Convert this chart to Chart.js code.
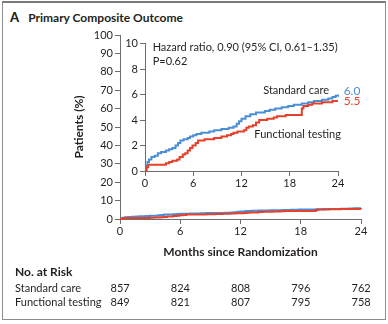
<!DOCTYPE html>
<html>
<head>
<meta charset="utf-8">
<script src="https://cdn.jsdelivr.net/npm/chart.js@4.4.1/dist/chart.umd.min.js"></script>
<style>
  body { margin: 0; background: #fff; font-family: Lato, "Open Sans", sans-serif; color: #231f20; }
  #wrap { position: relative; width: 388px; height: 324px; overflow: hidden; }
  #frame { position: absolute; left: 2px; top: 1px; width: 382px; height: 316px;
           border: 1px solid #8c8c8c; border-top: 2px solid #7a7a7a; }
  canvas { position: absolute; }
  #main { left: 0; top: 0; }
  #inset { left: 95px; top: 35px; }
  .title { position: absolute; left: 10px; top: 9px; font-weight: bold; font-size: 12px; white-space: nowrap; }
  .title b { margin-right: 9px; font-size: 13px; }
  .risk { position: absolute; font-size: 11px; white-space: nowrap; line-height: 14px; }
  .risk.head { font-weight: bold; font-size: 12px; }
</style>
</head>
<body>
<div id="wrap">
  <div id="frame"></div>
  <div class="title"><b>A</b>Primary Composite Outcome</div>
  <canvas id="main" width="388" height="324"></canvas>
  <canvas id="inset" width="280" height="160"></canvas>
</div>
<script>
// months since randomization / cumulative event rate (%)
const standardMonths = [0, 0.15, 0.3, 0.5, 0.8, 1.2, 1.6, 2.0, 2.6, 3.0, 3.4, 3.8, 4.1, 4.4, 4.8, 5.3, 5.6, 6.0, 6.4, 7.0, 8.0, 8.6, 9.5, 10.4, 11.0, 11.4, 11.7, 12.0, 12.5, 13.1, 13.8, 14.9, 15.5, 16.2, 17.0, 17.8, 18.5, 19.5, 20.3, 21.0, 22.0, 22.8, 23.3, 23.7, 24.0];
const standardPct    = [0, 0.4, 0.7, 0.9, 1.1, 1.2, 1.4, 1.5, 1.6, 1.7, 1.8, 2.0, 2.2, 2.4, 2.5, 2.6, 2.7, 2.8, 2.9, 3.0, 3.1, 3.2, 3.3, 3.4, 3.5, 3.7, 3.9, 4.1, 4.3, 4.45, 4.6, 4.7, 4.8, 4.9, 5.0, 5.1, 5.2, 5.3, 5.4, 5.5, 5.6, 5.7, 5.8, 5.9, 6.0];
const functionalMonths = [0, 0.2, 0.4, 2.6, 3.0, 3.4, 4.0, 4.3, 4.7, 5.0, 5.3, 5.6, 5.9, 6.3, 6.6, 7.4, 8.6, 9.5, 10.2, 10.7, 11.0, 11.5, 12.3, 12.6, 12.9, 13.4, 13.8, 14.2, 15.2, 16.0, 16.4, 17.5, 19.5, 19.7, 20.3, 20.8, 22.0, 23.3, 24.0];
const functionalPct    = [0, 0.3, 0.5, 0.6, 0.7, 0.8, 0.9, 1.1, 1.3, 1.4, 1.6, 1.8, 2.0, 2.2, 2.4, 2.5, 2.6, 2.7, 2.8, 2.9, 3.0, 3.1, 3.2, 3.4, 3.5, 3.6, 3.8, 4.0, 4.1, 4.2, 4.3, 4.4, 4.9, 5.1, 5.2, 5.3, 5.4, 5.5, 5.5];

const monthTicks = [0, 6, 12, 18, 24];
const riskStandard   = [857, 824, 808, 796, 762];
const riskFunctional = [849, 821, 807, 795, 758];

const BLUE = '#4a8fd6';
const RED = '#e5402b';
const AXIS = '#6e6e6e';
const TEXT = '#231f20';
const FONT = 'Lato, "Open Sans", sans-serif';

function toPoints(xs, ys) {
  return xs.map((x, i) => ({ x: x, y: ys[i] }));
}

function datasets(width) {
  return [
    { label: 'Functional testing', data: toPoints(functionalMonths, functionalPct),
      borderColor: RED, borderWidth: width, stepped: true, pointRadius: 0, clip: 4 },
    { label: 'Standard care', data: toPoints(standardMonths, standardPct),
      borderColor: BLUE, borderWidth: width, stepped: true, pointRadius: 0, clip: 4 }
  ];
}

function axisStyle(extra) {
  return Object.assign({
    type: 'linear',
    grid: { display: true, drawOnChartArea: false, drawTicks: true, tickLength: 5, color: AXIS },
    border: { display: true, color: AXIS, width: 1 },
    ticks: { color: TEXT, font: { family: FONT, size: 11 }, padding: 1 }
  }, extra);
}

Chart.defaults.animation = false;

// main chart, 0-100 %
const mainChart = new Chart(document.getElementById('main'), {
  type: 'line',
  data: { datasets: datasets(2) },
  options: {
    responsive: false,
    layout: { padding: { left: 68, right: 27, top: 35, bottom: 61 } },
    plugins: { legend: { display: false }, tooltip: { enabled: false } },
    scales: {
      x: axisStyle({
        min: 0, max: 24,
        afterBuildTicks: s => { s.ticks = monthTicks.map(v => ({ value: v })); },
        afterFit: s => { s.height = 44; },
        title: { display: true, text: 'Months since Randomization', color: TEXT,
                 font: { family: FONT, size: 12, weight: 'bold' }, padding: { top: 0, bottom: 4 } }
      }),
      y: axisStyle({
        min: 0, max: 100,
        ticks: { stepSize: 10, color: TEXT, font: { family: FONT, size: 11 }, padding: 2 },
        afterFit: s => { s.width = 52; },
        title: { display: true, text: 'Patients (%)', color: TEXT,
                 font: { family: FONT, size: 12, weight: 'bold' }, padding: { top: 4, bottom: 0 } }
      })
    }
  }
});

// labels drawn inside the inset
const insetLabels = {
  id: 'insetLabels',
  afterDraw(chart) {
    const { ctx, scales: { x, y } } = chart;
    ctx.save();
    ctx.font = '11px ' + FONT;
    ctx.textBaseline = 'middle';
    ctx.fillStyle = TEXT;
    ctx.textAlign = 'left';
    ctx.fillText('Hazard ratio, 0.90 (95% CI, 0.61\u20131.35)', x.getPixelForValue(0.95), y.getPixelForValue(9.7));
    ctx.fillText('P=0.62', x.getPixelForValue(0.95), y.getPixelForValue(8.6));
    ctx.fillText('Functional testing', x.getPixelForValue(13.6), y.getPixelForValue(2.9));
    ctx.textAlign = 'right';
    ctx.fillText('Standard care', x.getPixelForValue(22.9), y.getPixelForValue(6.3));
    ctx.textAlign = 'left';
    ctx.font = '12px ' + FONT;
    ctx.fillStyle = BLUE;
    ctx.fillText('6.0', x.getPixelForValue(24.7), y.getPixelForValue(6.3));
    ctx.fillStyle = RED;
    ctx.fillText('5.5', x.getPixelForValue(24.7), y.getPixelForValue(5.45));
    ctx.restore();
  }
};

// inset, 0-10 %
const insetChart = new Chart(document.getElementById('inset'), {
  type: 'line',
  data: { datasets: datasets(2) },
  options: {
    responsive: false,
    layout: { padding: { left: 0, right: 37, top: 8, bottom: 0 } },
    plugins: { legend: { display: false }, tooltip: { enabled: false } },
    scales: {
      x: axisStyle({
        min: 0, max: 24,
        afterBuildTicks: s => { s.ticks = monthTicks.map(v => ({ value: v })); },
        afterFit: s => { s.height = 24; }
      }),
      y: axisStyle({
        min: 0, max: 10,
        ticks: { stepSize: 2, color: TEXT, font: { family: FONT, size: 11 }, padding: 2 },
        afterFit: s => { s.width = 50; }
      })
    }
  },
  plugins: [insetLabels]
});

// number at risk, aligned to the main x axis
const wrap = document.getElementById('wrap');
function addText(txt, left, top, cls, center) {
  const el = document.createElement('div');
  el.className = 'risk' + (cls ? ' ' + cls : '');
  el.textContent = txt;
  el.style.top = top + 'px';
  el.style.left = left + 'px';
  wrap.appendChild(el);
  if (center) el.style.left = (left - el.offsetWidth / 2) + 'px';
}
addText('No. at Risk', 15, 265, 'head');
addText('Standard care', 15, 281);
addText('Functional testing', 15, 295);
monthTicks.forEach((m, i) => {
  const px = mainChart.scales.x.getPixelForValue(m);
  addText(String(riskStandard[i]), px, 281, '', true);
  addText(String(riskFunctional[i]), px, 295, '', true);
});
</script>
</body>
</html>
